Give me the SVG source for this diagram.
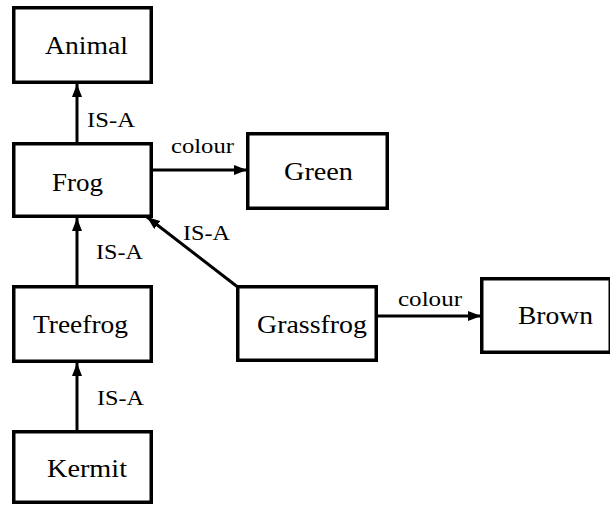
<svg xmlns="http://www.w3.org/2000/svg" width="610" height="505" viewBox="0 0 610 505">
<defs>
<style>
.box{fill:#fff;stroke:#000;stroke-width:3.5}
.t{font-family:"Liberation Serif","Times New Roman",serif;font-size:25px;fill:#000}
.l{font-family:"Liberation Serif","Times New Roman",serif;font-size:21px;fill:#000}
.e{stroke:#000;stroke-width:3;fill:none;marker-end:url(#ah)}
</style>
<marker id="ah" markerUnits="userSpaceOnUse" markerWidth="13" markerHeight="10" refX="13" refY="5" orient="auto">
<path d="M0,0 L13,5 L0,10 z" fill="#000"/>
</marker>
</defs>
<rect width="610" height="505" fill="#fff"/>
<g id="connectors">
<path class="e" d="M77,142 L77,84"/>
<text class="l" x="87" y="127" textLength="48" lengthAdjust="spacingAndGlyphs">IS-A</text>
<path class="e" d="M77,285 L77,218"/>
<text class="l" x="96" y="259" textLength="47" lengthAdjust="spacingAndGlyphs">IS-A</text>
<path class="e" d="M77,430 L77,363"/>
<text class="l" x="97" y="405" textLength="47" lengthAdjust="spacingAndGlyphs">IS-A</text>
<path class="e" d="M153,170 L247,170"/>
<text class="l" x="171" y="153" textLength="63" lengthAdjust="spacingAndGlyphs">colour</text>
<path class="e" d="M239,288 L147,217"/>
<text class="l" x="183" y="240" textLength="47" lengthAdjust="spacingAndGlyphs">IS-A</text>
<path class="e" d="M378,316 L481,316"/>
<text class="l" x="398" y="306" textLength="64" lengthAdjust="spacingAndGlyphs">colour</text>
</g>
<g id="animal">
<rect class="box" x="13.75" y="7.75" width="137.5" height="74.5"/>
<text class="t" x="45" y="54" textLength="83" lengthAdjust="spacingAndGlyphs">Animal</text>
</g>
<g id="frog">
<rect class="box" x="13.75" y="143.75" width="137.5" height="72.5"/>
<text class="t" x="52" y="191" textLength="51" lengthAdjust="spacingAndGlyphs">Frog</text>
</g>
<g id="green">
<rect class="box" x="247.75" y="133.75" width="139.5" height="74.5"/>
<text class="t" x="284" y="180" textLength="69" lengthAdjust="spacingAndGlyphs">Green</text>
</g>
<g id="treefrog">
<rect class="box" x="13.75" y="286.75" width="137.5" height="74.5"/>
<text class="t" x="33" y="333" textLength="95" lengthAdjust="spacingAndGlyphs">Treefrog</text>
</g>
<g id="grassfrog">
<rect class="box" x="237.75" y="286.75" width="138.5" height="73.5"/>
<text class="t" x="257" y="333" textLength="110" lengthAdjust="spacingAndGlyphs">Grassfrog</text>
</g>
<g id="brown">
<rect class="box" x="481.75" y="278.75" width="128.5" height="73.5"/>
<text class="t" x="518" y="324" textLength="75" lengthAdjust="spacingAndGlyphs">Brown</text>
</g>
<g id="kermit">
<rect class="box" x="13.75" y="431.75" width="137.5" height="70.5"/>
<text class="t" x="47" y="477" textLength="80" lengthAdjust="spacingAndGlyphs">Kermit</text>
</g>
</svg>
